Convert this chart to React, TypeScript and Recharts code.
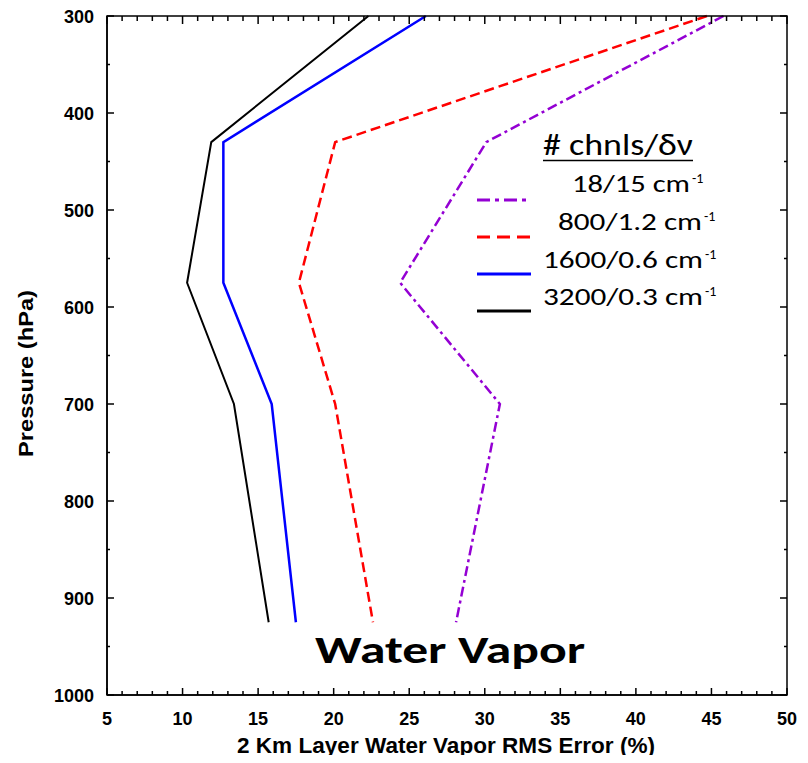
import React from 'react';
import { LineChart, Line, XAxis, YAxis } from 'recharts';

// pressure levels (hPa) where each profile has a vertex
const pressure = [300, 430, 575, 700, 925];

// 2 km layer water vapor RMS error (%) per channel set
const ch18 = [45.8, 30.1, 24.4, 31.0, 28.1];
const ch800 = [44.7, 20.1, 17.7, 20.1, 22.6];
const ch1600 = [26.1, 12.7, 12.7, 15.9, 17.5];
const ch3200 = [22.3, 11.9, 10.3, 13.4, 15.7];

const xMajor = [5, 10, 15, 20, 25, 30, 35, 40, 45, 50];
const xMinor = [
  5, 6, 7, 8, 9, 10, 11, 12, 13, 14, 15, 16, 17, 18, 19, 20, 21, 22, 23, 24, 25, 26, 27,
  28, 29, 30, 31, 32, 33, 34, 35, 36, 37, 38, 39, 40, 41, 42, 43, 44, 45, 46, 47, 48, 49, 50,
];
const yMajor = [300, 400, 500, 600, 700, 800, 900, 1000];
const yMinor = [300, 350, 400, 450, 500, 550, 600, 650, 700, 750, 800, 850, 900, 950, 1000];

const legendLabels = ['18/15 cm', '800/1.2 cm', '1600/0.6 cm', '3200/0.3 cm'];

const data = pressure.map((p, i) => ({
  p,
  ch18: ch18[i],
  ch800: ch800[i],
  ch1600: ch1600[i],
  ch3200: ch3200[i],
}));

const tickFont = { fontFamily: 'Liberation Sans, Arial, sans-serif', fontWeight: 700, fontSize: 18 };
const calibri = 'Carlito, Lato, sans-serif';

// plot box edges (px) given the margins + axis sizes below
const BOX = { top: 16, bottom: 695, left: 107, right: 787 };
const px = (v: number) => BOX.left + ((v - 5) / 45) * (BOX.right - BOX.left);
const py = (p: number) => BOX.top + ((p - 300) / 700) * (BOX.bottom - BOX.top);

// tick labels come from the recharts axes
function xTick(props: any) {
  const { x, y, payload } = props;
  const v = payload.value;
  if (!xMajor.includes(v)) return <g />;
  return (
    <text x={x} y={y + 30} textAnchor="middle" {...tickFont} fill="#000">
      {v}
    </text>
  );
}

function yTick(props: any) {
  const { x, y, payload } = props;
  const v = payload.value;
  if (!yMajor.includes(v)) return <g />;
  return (
    <text x={x - 13} y={y + 6.5} textAnchor="end" {...tickFont} fill="#000">
      {v}
    </text>
  );
}

const legendY = [200, 237, 274, 311];
const legendBase = [192, 230, 268, 305];
const legendX = [572, 558, 543, 543];
const legendEnd = [690, 702, 703, 703];
const legendStyle = [
  { stroke: '#9400D3', dash: '13 5 4 5' },
  { stroke: '#FF0000', dash: '13 7' },
  { stroke: '#0000FF', dash: undefined },
  { stroke: '#000000', dash: undefined },
];

const axisLine = { stroke: '#000', strokeWidth: 1.5 };

export default function App() {
  return (
    <div style={{ position: 'relative', width: 808, height: 763, margin: -8, background: '#fff' }}>
      <LineChart
        width={808}
        height={763}
        data={data}
        layout="vertical"
        margin={{ top: 16, right: 21, bottom: 28, left: 47 }}
      >
        <XAxis
          xAxisId="b"
          type="number"
          domain={[5, 50]}
          ticks={xMinor}
          interval={0}
          height={40}
          tickSize={0}
          tickMargin={0}
          axisLine={axisLine}
          tickLine={false}
          tick={xTick}
        />
        <YAxis
          yAxisId="l"
          type="number"
          dataKey="p"
          domain={[300, 1000]}
          ticks={yMinor}
          interval={0}
          width={60}
          tickSize={0}
          tickMargin={0}
          axisLine={axisLine}
          tickLine={false}
          tick={yTick}
        />
        <Line
          xAxisId="b"
          yAxisId="l"
          type="linear"
          dataKey="ch18"
          stroke="#9400D3"
          strokeWidth={2.5}
          strokeDasharray="10 4 3 4"
          dot={false}
          isAnimationActive={false}
        />
        <Line
          xAxisId="b"
          yAxisId="l"
          type="linear"
          dataKey="ch800"
          stroke="#FF0000"
          strokeWidth={2.5}
          strokeDasharray="10 5"
          dot={false}
          isAnimationActive={false}
        />
        <Line
          xAxisId="b"
          yAxisId="l"
          type="linear"
          dataKey="ch1600"
          stroke="#0000FF"
          strokeWidth={2.5}
          dot={false}
          isAnimationActive={false}
        />
        <Line
          xAxisId="b"
          yAxisId="l"
          type="linear"
          dataKey="ch3200"
          stroke="#000000"
          strokeWidth={2}
          dot={false}
          isAnimationActive={false}
        />
      </LineChart>

      <svg
        width={808}
        height={763}
        style={{ position: 'absolute', left: 0, top: 0, pointerEvents: 'none' }}
      >
        {/* frame box with inward ticks on all four sides */}
        <rect
          x={BOX.left}
          y={BOX.top}
          width={BOX.right - BOX.left}
          height={BOX.bottom - BOX.top}
          fill="none"
          stroke="#000"
          strokeWidth={1.5}
        />
        {xMinor.map((v) => {
          const len = xMajor.includes(v) ? 7 : 4;
          return (
            <g key={'x' + v}>
              <line x1={px(v)} x2={px(v)} y1={BOX.bottom} y2={BOX.bottom - len} stroke="#000" strokeWidth={1.5} />
              <line x1={px(v)} x2={px(v)} y1={BOX.top} y2={BOX.top + len + 1} stroke="#000" strokeWidth={1.5} />
            </g>
          );
        })}
        {yMinor.map((p) => {
          const len = yMajor.includes(p) ? 7 : 3;
          return (
            <g key={'y' + p}>
              <line x1={BOX.left} x2={BOX.left + len} y1={py(p)} y2={py(p)} stroke="#000" strokeWidth={1.5} />
              <line x1={BOX.right} x2={BOX.right - len} y1={py(p)} y2={py(p)} stroke="#000" strokeWidth={1.5} />
            </g>
          );
        })}

        {/* axis titles */}
        <text x={237} y={753} textLength={418} lengthAdjust="spacingAndGlyphs" {...tickFont} fontSize={22}>
          2 Km Layer Water Vapor RMS Error (%)
        </text>
        <text
          transform="translate(33,457) rotate(-90)"
          x={0}
          y={0}
          textLength={167}
          lengthAdjust="spacingAndGlyphs"
          {...tickFont}
          fontSize={20}
        >
          Pressure (hPa)
        </text>

        {/* legend */}
        <text x={543} y={155} textLength={150} lengthAdjust="spacingAndGlyphs" fontFamily={calibri} fontSize={30}>
          # chnls/δν
        </text>
        <line x1={543} y1={160.5} x2={693} y2={160.5} stroke="#000" strokeWidth={1.5} />
        {legendLabels.map((lab, i) => (
          <g key={lab}>
            <line
              x1={477}
              x2={531}
              y1={legendY[i]}
              y2={legendY[i]}
              stroke={legendStyle[i].stroke}
              strokeWidth={3}
              strokeDasharray={legendStyle[i].dash}
            />
            <text
              x={legendX[i]}
              y={legendBase[i]}
              textLength={legendEnd[i] - legendX[i]}
              lengthAdjust="spacingAndGlyphs"
              fontFamily={calibri}
              fontSize={25}
            >
              {lab}
            </text>
            <text x={legendEnd[i] + 2} y={legendBase[i] - 9} fontFamily={calibri} fontSize={14}>
              -1
            </text>
          </g>
        ))}

        <text
          x={315}
          y={663}
          textLength={270}
          lengthAdjust="spacingAndGlyphs"
          fontFamily={calibri}
          fontWeight={700}
          fontSize={38}
        >
          Water Vapor
        </text>
      </svg>
    </div>
  );
}
